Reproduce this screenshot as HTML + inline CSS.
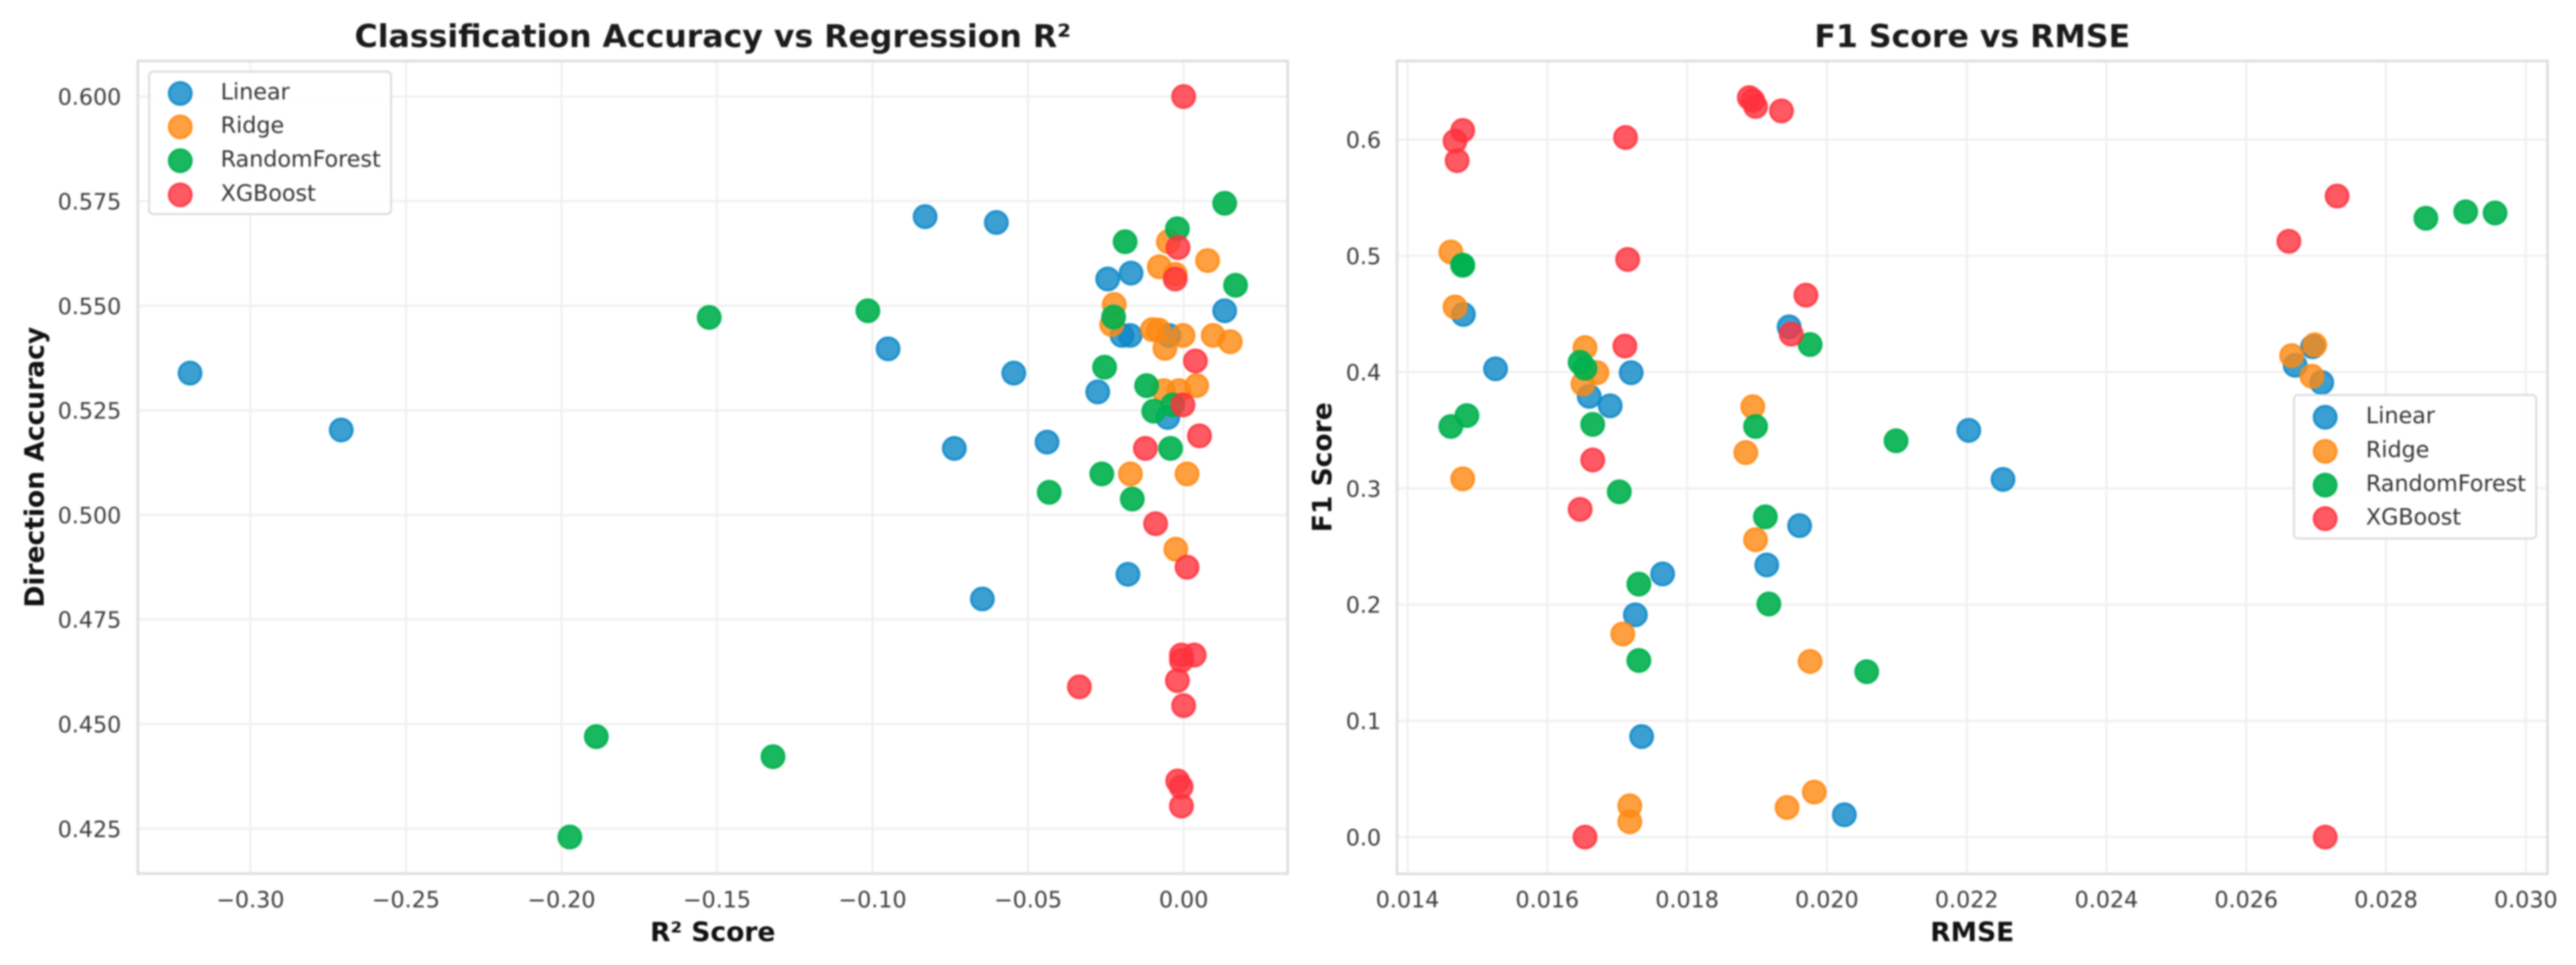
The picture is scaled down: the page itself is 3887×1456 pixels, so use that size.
<!DOCTYPE html>
<html lang="en">
<head>
<meta charset="utf-8">
<title>Classification Accuracy vs Regression R² and F1 Score vs RMSE</title>
<style>
html,body{margin:0;padding:0;background:#fff;width:3887px;height:1456px;overflow:hidden}
svg{display:block;filter:blur(1.4px)}
text{font-family:"DejaVu Sans","Liberation Sans",sans-serif}
.tick{font-size:33.5px;fill:#3a3a3a}
.legend-text{font-size:33.5px;fill:#333}
.title{font-size:47.6px;font-weight:700;fill:#1a1a1a;text-anchor:middle}
.axis-label{font-size:40px;font-weight:700;fill:#111;text-anchor:middle}
.grid{stroke:#efefef;stroke-width:3}
.spine{fill:none;stroke:#dedede;stroke-width:4}
.legend-box{fill:#fff;fill-opacity:.85;stroke:#dcdcdc;stroke-width:3}
.pt{stroke-width:3.6;fill-opacity:.8;stroke-opacity:.85}
.pt-green{fill-opacity:.9;stroke-opacity:.9}
</style>
</head>
<body>
<svg id="figure" width="3887" height="1456" viewBox="0 0 3887 1456" xmlns="http://www.w3.org/2000/svg">
  <rect width="3887" height="1456" fill="#fff"/>

  <g id="left-chart">
    <g id="left-grid"></g>
    <g id="left-points"></g>
    <rect class="spine" x="208" y="92" width="1735" height="1226"/>
    <g id="left-ticks"></g>
    <text class="title" x="1075.5" y="71">Classification Accuracy vs Regression R²</text>
    <text class="axis-label" x="1075.5" y="1420">R² Score</text>
    <text class="axis-label" transform="translate(66 705) rotate(-90)">Direction Accuracy</text>
    <g>
      <rect class="legend-box" x="225" y="108" width="365" height="215" rx="6"/>
      <circle class="pt" cx="272" cy="141" r="17" fill="#0b87c7" stroke="#0b87c7"/>
      <text class="legend-text" x="333" y="150">Linear</text>
      <circle class="pt" cx="272" cy="191.5" r="17" fill="#ff8810" stroke="#ff8810"/>
      <text class="legend-text" x="333" y="200.5">Ridge</text>
      <circle class="pt pt-green" cx="272" cy="242.5" r="17" fill="#00b04e" stroke="#00b04e"/>
      <text class="legend-text" x="333" y="251.5">RandomForest</text>
      <circle class="pt" cx="272" cy="294" r="17" fill="#ff313d" stroke="#ff313d"/>
      <text class="legend-text" x="333" y="303">XGBoost</text>
    </g>
  </g>

  <g id="right-chart">
    <g id="right-grid"></g>
    <g id="right-points"></g>
    <rect class="spine" x="2108" y="92" width="1736" height="1226.5"/>
    <g id="right-ticks"></g>
    <text class="title" x="2976" y="71">F1 Score vs RMSE</text>
    <text class="axis-label" x="2976" y="1420">RMSE</text>
    <text class="axis-label" transform="translate(2009 705) rotate(-90)">F1 Score</text>
    <g>
      <rect class="legend-box" x="3461.5" y="596" width="365.5" height="216.5" rx="6"/>
      <circle class="pt" cx="3508.5" cy="629.5" r="17" fill="#0b87c7" stroke="#0b87c7"/>
      <text class="legend-text" x="3570" y="638.5">Linear</text>
      <circle class="pt" cx="3508.5" cy="681" r="17" fill="#ff8810" stroke="#ff8810"/>
      <text class="legend-text" x="3570" y="690">Ridge</text>
      <circle class="pt pt-green" cx="3508.5" cy="732" r="17" fill="#00b04e" stroke="#00b04e"/>
      <text class="legend-text" x="3570" y="741">RandomForest</text>
      <circle class="pt" cx="3508.5" cy="782.6" r="17" fill="#ff313d" stroke="#ff313d"/>
      <text class="legend-text" x="3570" y="791.6">XGBoost</text>
    </g>
  </g>
</svg>

<script>
// Left chart: R² score (x) vs direction accuracy (y)
const r2Linear = [-0.3194,-0.2708,-0.0950,-0.0831,-0.0737,-0.0647,-0.0602,-0.0546,-0.0439,-0.0276,-0.0244,-0.0198,-0.0179,-0.0172,-0.0169,-0.0051,-0.0047,0.0132];
const accLinear = [0.5339,0.5203,0.5397,0.5713,0.5159,0.4799,0.5699,0.5339,0.5174,0.5294,0.5564,0.5429,0.4858,0.5429,0.5578,0.5233,0.5429,0.5488];
const r2Ridge = [-0.0231,-0.0223,-0.0171,-0.0100,-0.0080,-0.0078,-0.0064,-0.0060,-0.0049,-0.0027,-0.0025,-0.0015,-0.0002,0.0011,0.0042,0.0077,0.0095,0.0150];
const accRidge = [0.5455,0.5503,0.5098,0.5443,0.5442,0.5593,0.5297,0.5398,0.5653,0.5575,0.4918,0.5297,0.5429,0.5098,0.5309,0.5608,0.5429,0.5414];
const r2Forest = [-0.1973,-0.1888,-0.1525,-0.1320,-0.1015,-0.0432,-0.0263,-0.0254,-0.0225,-0.0188,-0.0165,-0.0119,-0.0096,-0.0042,-0.0035,-0.0020,0.0132,0.0167];
const accForest = [0.4230,0.4470,0.5472,0.4422,0.5488,0.5054,0.5098,0.5353,0.5473,0.5653,0.5038,0.5309,0.5248,0.5159,0.5263,0.5684,0.5745,0.5549];
const r2Boost = [-0.0335,-0.0123,-0.0090,-0.0027,-0.0020,-0.0019,-0.0018,-0.0008,-0.0007,-0.0007,-0.0007,-0.0002,0,0,0.0011,0.0034,0.0038,0.0051];
const accBoost = [0.4589,0.5159,0.4979,0.5564,0.4604,0.4364,0.5639,0.4350,0.4665,0.4652,0.4304,0.5263,0.6000,0.4544,0.4875,0.4665,0.5368,0.5189];

// Right chart: RMSE (x) vs F1 score (y)
const rmseLinear = [0.01480,0.01526,0.01660,0.01690,0.01720,0.01726,0.01735,0.01765,0.01914,0.01946,0.01961,0.02025,0.02203,0.02252,0.02670,0.02695,0.02708];
const f1Linear = [0.4496,0.4028,0.3791,0.3710,0.3995,0.1912,0.0865,0.2264,0.2341,0.4389,0.2679,0.0192,0.3499,0.3077,0.4058,0.4218,0.3910];
const rmseRidge = [0.01462,0.01468,0.01479,0.01651,0.01654,0.01671,0.01708,0.01718,0.01718,0.01884,0.01894,0.01898,0.01943,0.01976,0.01982,0.02665,0.02694,0.02698];
const f1Ridge = [0.5033,0.4560,0.3082,0.3898,0.4211,0.3995,0.1747,0.0269,0.0132,0.3308,0.3702,0.2558,0.0255,0.1511,0.0387,0.4142,0.3964,0.4234];
const rmseForest = [0.01462,0.01479,0.01479,0.01485,0.01647,0.01654,0.01665,0.01703,0.01731,0.01731,0.01898,0.01912,0.01917,0.01976,0.02057,0.02099,0.02857,0.02914,0.02956];
const f1Forest = [0.3532,0.4919,0.4919,0.3626,0.4084,0.4033,0.3550,0.2970,0.2176,0.1519,0.3532,0.2755,0.2005,0.4237,0.1423,0.3409,0.5323,0.5379,0.5369];
const rmseBoost = [0.01468,0.01471,0.01479,0.01647,0.01654,0.01665,0.01711,0.01712,0.01715,0.01889,0.01894,0.01898,0.01935,0.01949,0.01970,0.02661,0.02713,0.02730];
const f1Boost = [0.5987,0.5819,0.6079,0.2819,0.0000,0.3244,0.4224,0.6018,0.4969,0.6361,0.6336,0.6285,0.6247,0.4326,0.4662,0.5125,0.0000,0.5514];

// Tick values and printed labels
const leftXTicks = [-0.30,-0.25,-0.20,-0.15,-0.10,-0.05,0.00];
const leftXLabels = ["−0.30","−0.25","−0.20","−0.15","−0.10","−0.05","0.00"];
const leftYTicks = [0.425,0.450,0.475,0.500,0.525,0.550,0.575,0.600];
const leftYLabels = ["0.425","0.450","0.475","0.500","0.525","0.550","0.575","0.600"];
const rightXTicks = [0.014,0.016,0.018,0.020,0.022,0.024,0.026,0.028,0.030];
const rightXLabels = ["0.014","0.016","0.018","0.020","0.022","0.024","0.026","0.028","0.030"];
const rightYTicks = [0.0,0.1,0.2,0.3,0.4,0.5,0.6];
const rightYLabels = ["0.0","0.1","0.2","0.3","0.4","0.5","0.6"];

// Axis limits
const leftXLimits = [-0.33618,0.03345];
const leftYLimits = [0.41427,0.60851];
const rightXLimits = [0.01385,0.03031];
const rightYLimits = [-0.03164,0.66762];

const SVG_NS = "http://www.w3.org/2000/svg";

function linearScale(domain, range) {
  return function (v) {
    return range[0] + (v - domain[0]) / (domain[1] - domain[0]) * (range[1] - range[0]);
  };
}

const leftX = linearScale(leftXLimits, [208, 1943]);
const leftY = linearScale(leftYLimits, [1318, 92]);
const rightX = linearScale(rightXLimits, [2108, 3844]);
const rightY = linearScale(rightYLimits, [1318.5, 92]);

function makeSvg(tag) {
  return document.createElementNS(SVG_NS, tag);
}

function drawAxes(prefix, xTicks, xLabels, yTicks, yLabels, sx, sy, box, labelBaselineY, labelRightX) {
  const gridGroup = document.getElementById(prefix + "-grid");
  const tickGroup = document.getElementById(prefix + "-ticks");
  xTicks.forEach(function (t, i) {
    const line = makeSvg("line");
    
    
    line.setAttribute("class", "grid");
    line.setAttribute("x1", sx(t));
    line.setAttribute("x2", sx(t));
    line.setAttribute("y1", box.top);
    line.setAttribute("y2", box.bottom);
    gridGroup.appendChild(line);
    const label = makeSvg("text");
    
    
    label.setAttribute("class", "tick");
    label.setAttribute("text-anchor", "middle");
    label.setAttribute("x", sx(t));
    label.setAttribute("y", labelBaselineY);
    label.textContent = xLabels[i];
    tickGroup.appendChild(label);
  });
  yTicks.forEach(function (t, i) {
    const line = makeSvg("line");
    
    
    line.setAttribute("class", "grid");
    line.setAttribute("x1", box.left);
    line.setAttribute("x2", box.right);
    line.setAttribute("y1", sy(t));
    line.setAttribute("y2", sy(t));
    gridGroup.appendChild(line);
    const label = makeSvg("text");
    
    
    label.setAttribute("class", "tick");
    label.setAttribute("text-anchor", "end");
    label.setAttribute("x", labelRightX);
    label.setAttribute("y", sy(t) + 12.5);
    label.textContent = yLabels[i];
    tickGroup.appendChild(label);
  });
}

function drawSeries(groupId, xs, ys, sx, sy, color, extraClass) {
  const group = document.getElementById(groupId);
  xs.forEach(function (x, i) {
    const dot = makeSvg("circle");
    
    
    dot.setAttribute("class", "pt " + extraClass);
    dot.setAttribute("cx", sx(x));
    dot.setAttribute("cy", sy(ys[i]));
    dot.setAttribute("r", 17);
    dot.setAttribute("fill", color);
    dot.setAttribute("stroke", color);
    group.appendChild(dot);
  });
}

drawAxes("left", leftXTicks, leftXLabels, leftYTicks, leftYLabels, leftX, leftY, {left: 208, right: 1943, top: 92, bottom: 1318}, 1369, 183);
drawAxes("right", rightXTicks, rightXLabels, rightYTicks, rightYLabels, rightX, rightY, {left: 2108, right: 3844, top: 92, bottom: 1318.5}, 1369, 2084);

const BLUE = "#0b87c7";
const ORANGE = "#ff8810";
const GREEN = "#00b04e";
const RED = "#ff313d";

drawSeries("left-points", r2Linear, accLinear, leftX, leftY, BLUE, "");
drawSeries("left-points", r2Ridge, accRidge, leftX, leftY, ORANGE, "");
drawSeries("left-points", r2Forest, accForest, leftX, leftY, GREEN, "pt-green");
drawSeries("left-points", r2Boost, accBoost, leftX, leftY, RED, "");

drawSeries("right-points", rmseLinear, f1Linear, rightX, rightY, BLUE, "");
drawSeries("right-points", rmseRidge, f1Ridge, rightX, rightY, ORANGE, "");
drawSeries("right-points", rmseForest, f1Forest, rightX, rightY, GREEN, "pt-green");
drawSeries("right-points", rmseBoost, f1Boost, rightX, rightY, RED, "");
</script>
</body>
</html>
